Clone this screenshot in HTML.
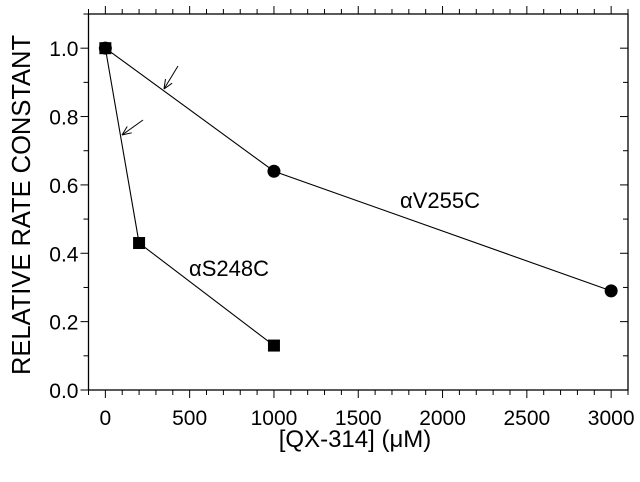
<!DOCTYPE html>
<html><head><meta charset="utf-8"><style>
body{margin:0;background:#fff}
svg text{font-family:"Liberation Sans",sans-serif;fill:#000}
</style></head><body>
<svg id="chart" width="640" height="477" xmlns="http://www.w3.org/2000/svg">
<g id="axes"></g><g id="series"></g>
<text x="0" y="0" font-size="25.5" text-anchor="middle" transform="translate(30,205) rotate(-90)">RELATIVE RATE CONSTANT</text>
<text x="355" y="447" font-size="24" text-anchor="middle">[QX-314] (μM)</text>
<text x="440" y="208" font-size="22" text-anchor="middle">αV255C</text>
<text x="229" y="276" font-size="22" text-anchor="middle">αS248C</text>
</svg>
<script>
const xTicks=[0,500,1000,1500,2000,2500,3000];
const yTicks=[0.0,0.2,0.4,0.6,0.8,1.0];
const v255cX=[0,1000,3000];
const v255cY=[1.0,0.64,0.29];
const s248cX=[0,200,1000];
const s248cY=[1.0,0.43,0.13];
const X0=-100,X1=3100,Y0=0,Y1=1.1;
const L=88.5,R=628,T=14,B=390;
const sx=v=>L+(v-X0)/(X1-X0)*(R-L);
const sy=v=>B-(v-Y0)/(Y1-Y0)*(B-T);
const NS="http://www.w3.org/2000/svg";
const ax=document.getElementById('axes'),se=document.getElementById('series');
function mk(tag,at,p){const e=document.createElementNS(NS,tag);for(const k in at)e.setAttribute(k,at[k]);p.appendChild(e);return e;}
const frame=mk('rect',{x:L,y:T,width:R-L,height:B-T,fill:'none',stroke:'#000','stroke-width':1.3},ax);


for(let v=-100;v<=3100;v+=100){const x=sx(v);const maj=v%500===0;const len=maj?8:5;
 mk('line',{x1:x,y1:B,x2:x,y2:B+len,stroke:'#000','stroke-width':1},ax);
 mk('line',{x1:x,y1:T,x2:x,y2:T-len,stroke:'#000','stroke-width':1},ax);}
for(let i=0;i<=11;i++){const v=i/10;const y=sy(v);const maj=i%2===0;const len=maj?8:5;
 mk('line',{x1:L,y1:y,x2:L-len,y2:y,stroke:'#000','stroke-width':1},ax);
 mk('line',{x1:R,y1:y,x2:R-len,y2:y,stroke:'#000','stroke-width':1},ax);}
xTicks.forEach(v=>{const t=mk('text',{x:sx(v),y:B+35,'font-size':21,'text-anchor':'middle'},ax);t.textContent=v;
 
 });
yTicks.forEach(v=>{const t=mk('text',{x:L-10,y:sy(v)+8,'font-size':21,'text-anchor':'end'},ax);t.textContent=v.toFixed(1);
 
 });
function line(xs,ys,name){const l=mk('polyline',{points:xs.map((x,i)=>sx(x)+','+sy(ys[i])).join(' '),fill:'none',stroke:'#000','stroke-width':1.1},se);
 
 }
line(v255cX,v255cY,'line-v255c');line(s248cX,s248cY,'line-s248c');
v255cX.forEach((x,i)=>{const c=mk('circle',{cx:sx(x),cy:sy(v255cY[i]),r:6.5,fill:'#000'},se);
 
 });
s248cX.forEach((x,i)=>{const r=mk('rect',{x:sx(x)-6,y:sy(s248cY[i])-6,width:12,height:12,fill:'#000'},se);
 
 });
function arrow(x1,y1,x2,y2,name){const g=mk('g',{stroke:'#000','stroke-width':1,fill:'none'},se);
 
 
 mk('line',{x1:x1,y1:y1,x2:x2,y2:y2},g);
 const a=Math.atan2(y2-y1,x2-x1),h=10;
 [0.4,-0.4].forEach(d=>mk('line',{x1:x2,y1:y2,x2:x2-h*Math.cos(a+d),y2:y2-h*Math.sin(a+d)},g));}
arrow(178,66,164,89,'arrow-v255c');arrow(143,120,122,135,'arrow-s248c');
</script>
</body></html>
